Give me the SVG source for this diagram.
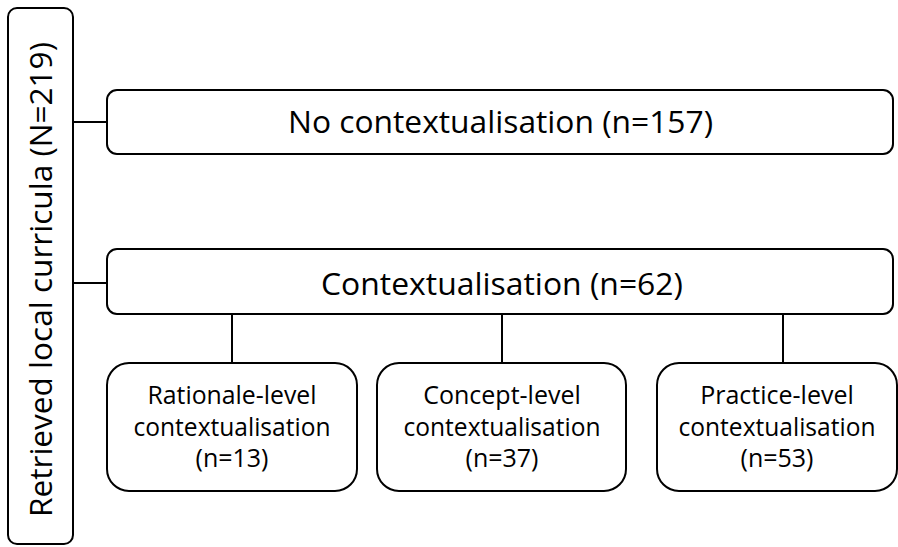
<svg xmlns="http://www.w3.org/2000/svg" width="898" height="547" viewBox="0 0 898 547">
<style>
.box{fill:#fff;stroke:#000;stroke-width:2}
.ln{stroke:#000;stroke-width:2;fill:none}
.t{font-family:"Open Sans","Noto Sans","Liberation Sans",sans-serif;fill:#000;text-anchor:middle}
.big{font-size:31px}
.sm{font-size:25px}
</style>
<rect width="898" height="547" fill="#fff"/>
<g id="connectors">
<line class="ln" x1="73" y1="122" x2="107" y2="122"/>
<line class="ln" x1="73" y1="283" x2="107" y2="283"/>
<line class="ln" x1="232" y1="314" x2="232" y2="363"/>
<line class="ln" x1="502" y1="314" x2="502" y2="363"/>
<line class="ln" x1="783" y1="314" x2="783" y2="363"/>
</g>
<g id="root">
<rect class="box" x="8" y="8" width="65" height="536" rx="9"/>
<text class="t big" transform="translate(52,279.5) rotate(-90)" textLength="475" lengthAdjust="spacingAndGlyphs">Retrieved local curricula (N=219)</text>
</g>
<g id="nocontext">
<rect class="box" x="107" y="90" width="786" height="64" rx="10"/>
<text class="t big" x="500.5" y="133" textLength="425" lengthAdjust="spacingAndGlyphs">No contextualisation (n=157)</text>
</g>
<g id="context">
<rect class="box" x="107" y="249" width="786" height="65" rx="10"/>
<text class="t big" x="502" y="295" textLength="362" lengthAdjust="spacingAndGlyphs">Contextualisation (n=62)</text>
</g>
<g id="rationale">
<rect class="box" x="107" y="363" width="250" height="128" rx="22"/>
<text class="t sm" x="232" y="404" textLength="169" lengthAdjust="spacingAndGlyphs">Rationale-level</text>
<text class="t sm" x="232" y="436" textLength="197" lengthAdjust="spacingAndGlyphs">contextualisation</text>
<text class="t sm" x="232" y="467">(n=13)</text>
</g>
<g id="concept">
<rect class="box" x="377" y="363" width="249" height="128" rx="22"/>
<text class="t sm" x="502" y="404">Concept-level</text>
<text class="t sm" x="502" y="436" textLength="197" lengthAdjust="spacingAndGlyphs">contextualisation</text>
<text class="t sm" x="502" y="467">(n=37)</text>
</g>
<g id="practice">
<rect class="box" x="657" y="363" width="240" height="128" rx="22"/>
<text class="t sm" x="777" y="404">Practice-level</text>
<text class="t sm" x="777" y="436" textLength="197" lengthAdjust="spacingAndGlyphs">contextualisation</text>
<text class="t sm" x="777" y="467">(n=53)</text>
</g>
</svg>
